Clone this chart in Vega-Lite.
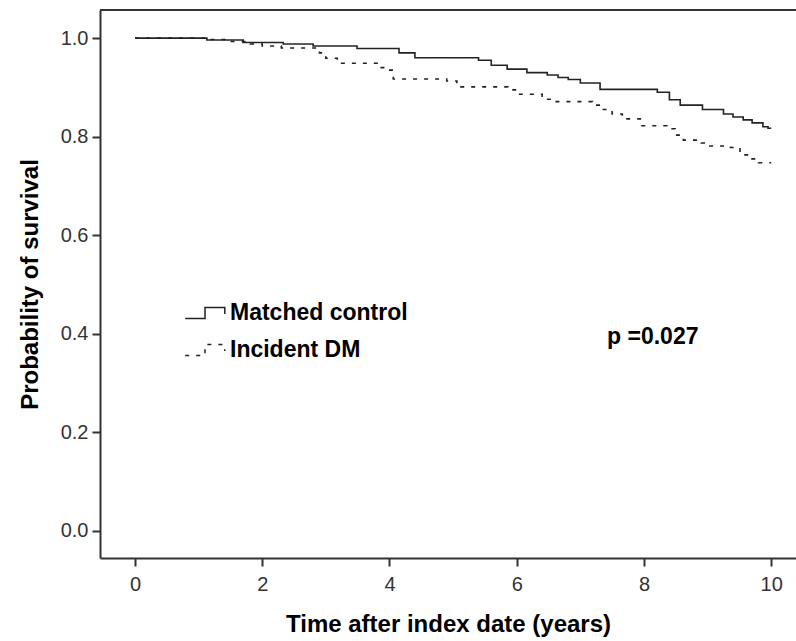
{
  "$schema": "https://vega.github.io/schema/vega-lite/v6.json",
  "width": 696,
  "height": 548,
  "autosize": {"type": "none"},
  "padding": {"left": 100, "top": 10, "right": 0, "bottom": 83},
  "background": "white",
  "config": {
    "view": {"stroke": null},
    "axis": {
      "domainColor": "#333",
      "domainWidth": 2,
      "tickColor": "#333",
      "tickWidth": 2,
      "tickSize": 8,
      "grid": false,
      "labelFont": "Liberation Sans, Arial, sans-serif",
      "labelFontSize": 20,
      "labelColor": "#333",
      "titleFont": "Liberation Sans, Arial, sans-serif",
      "titleFontSize": 24,
      "titleFontWeight": "bold",
      "titleColor": "#000"
    }
  },
  "datasets": {
    "curves": [
      {"group": "Matched control", "t": 0, "s": 1.0},
      {"group": "Matched control", "t": 1.13, "s": 0.996},
      {"group": "Matched control", "t": 1.7, "s": 0.991},
      {"group": "Matched control", "t": 2.33, "s": 0.988},
      {"group": "Matched control", "t": 2.8, "s": 0.984},
      {"group": "Matched control", "t": 3.49, "s": 0.979},
      {"group": "Matched control", "t": 4.15, "s": 0.97},
      {"group": "Matched control", "t": 4.4, "s": 0.96},
      {"group": "Matched control", "t": 5.4, "s": 0.955},
      {"group": "Matched control", "t": 5.6, "s": 0.945},
      {"group": "Matched control", "t": 5.85, "s": 0.937},
      {"group": "Matched control", "t": 6.16, "s": 0.93},
      {"group": "Matched control", "t": 6.48, "s": 0.925},
      {"group": "Matched control", "t": 6.65, "s": 0.92},
      {"group": "Matched control", "t": 6.81, "s": 0.916},
      {"group": "Matched control", "t": 7.0, "s": 0.909},
      {"group": "Matched control", "t": 7.31, "s": 0.896},
      {"group": "Matched control", "t": 8.21, "s": 0.89},
      {"group": "Matched control", "t": 8.4, "s": 0.875},
      {"group": "Matched control", "t": 8.57, "s": 0.864},
      {"group": "Matched control", "t": 8.92, "s": 0.855},
      {"group": "Matched control", "t": 9.25, "s": 0.846},
      {"group": "Matched control", "t": 9.4, "s": 0.84},
      {"group": "Matched control", "t": 9.56, "s": 0.834},
      {"group": "Matched control", "t": 9.7, "s": 0.828},
      {"group": "Matched control", "t": 9.87, "s": 0.82},
      {"group": "Matched control", "t": 9.95, "s": 0.817},
      {"group": "Matched control", "t": 10.0, "s": 0.817},
      {"group": "Incident DM", "t": 0, "s": 1.0},
      {"group": "Incident DM", "t": 1.15, "s": 0.997},
      {"group": "Incident DM", "t": 1.5, "s": 0.993},
      {"group": "Incident DM", "t": 1.81, "s": 0.988},
      {"group": "Incident DM", "t": 2.0, "s": 0.984},
      {"group": "Incident DM", "t": 2.3, "s": 0.98},
      {"group": "Incident DM", "t": 2.9, "s": 0.97},
      {"group": "Incident DM", "t": 3.0, "s": 0.959},
      {"group": "Incident DM", "t": 3.18, "s": 0.949},
      {"group": "Incident DM", "t": 3.85, "s": 0.94},
      {"group": "Incident DM", "t": 3.93, "s": 0.935},
      {"group": "Incident DM", "t": 4.06, "s": 0.917},
      {"group": "Incident DM", "t": 4.9, "s": 0.913},
      {"group": "Incident DM", "t": 5.06, "s": 0.901},
      {"group": "Incident DM", "t": 5.86, "s": 0.895},
      {"group": "Incident DM", "t": 6.0, "s": 0.886},
      {"group": "Incident DM", "t": 6.4, "s": 0.876},
      {"group": "Incident DM", "t": 6.57, "s": 0.871},
      {"group": "Incident DM", "t": 7.19, "s": 0.864},
      {"group": "Incident DM", "t": 7.34, "s": 0.855},
      {"group": "Incident DM", "t": 7.5, "s": 0.846},
      {"group": "Incident DM", "t": 7.66, "s": 0.836},
      {"group": "Incident DM", "t": 7.97, "s": 0.822},
      {"group": "Incident DM", "t": 8.36, "s": 0.816},
      {"group": "Incident DM", "t": 8.49, "s": 0.803},
      {"group": "Incident DM", "t": 8.62, "s": 0.793},
      {"group": "Incident DM", "t": 8.9, "s": 0.787},
      {"group": "Incident DM", "t": 9.0, "s": 0.781},
      {"group": "Incident DM", "t": 9.36, "s": 0.778},
      {"group": "Incident DM", "t": 9.51, "s": 0.763},
      {"group": "Incident DM", "t": 9.64, "s": 0.755},
      {"group": "Incident DM", "t": 9.8, "s": 0.747},
      {"group": "Incident DM", "t": 10.0, "s": 0.747}
    ],
    "annot": [{"t": 7.42, "s": 0.3935, "label": "p =0.027"}]
  },
  "layer": [
    {
      "data": {"name": "curves"},
      "mark": {"type": "line", "interpolate": "step-after", "color": "#222", "strokeWidth": 1.6},
      "encoding": {
        "x": {
          "field": "t", "type": "quantitative",
          "scale": {"domain": [-0.55, 10.39], "nice": false, "zero": false},
          "axis": {"title": "Time after index date (years)", "values": [0, 2, 4, 6, 8, 10], "format": "d", "labelPadding": 8, "titlePadding": 18}
        },
        "y": {
          "field": "s", "type": "quantitative",
          "scale": {"domain": [-0.055, 1.057], "nice": false, "zero": false},
          "axis": {"title": "Probability of survival", "values": [0, 0.2, 0.4, 0.6, 0.8, 1.0], "format": ".1f", "labelPadding": 4, "titlePadding": 18}
        },
        "strokeDash": {
          "field": "group", "type": "nominal",
          "scale": {"domain": ["Matched control", "Incident DM"], "range": [[1, 0], [4, 7]]},
          "legend": {
            "title": null,
            "orient": "none",
            "legendX": 86,
            "legendY": 284,
            "symbolType": "M-1.1,0.3H0V-0.3H1.1V0.05",
            "symbolSize": 1296,
            "symbolStrokeColor": "#222",
            "symbolStrokeWidth": 1.5,
            "symbolFillColor": "transparent",
            "labelFont": "Liberation Sans, Arial, sans-serif",
            "labelFontSize": 23,
            "labelFontWeight": "bold",
            "labelColor": "#000",
            "labelOffset": 6,
            "rowPadding": 6,
            "labelLimit": 400
          }
        }
      }
    },
    {
      "data": {"name": "annot"},
      "mark": {"type": "text", "align": "left", "baseline": "middle", "font": "Liberation Sans, Arial, sans-serif", "fontSize": 23, "fontWeight": "bold", "color": "#000"},
      "encoding": {
        "x": {"field": "t", "type": "quantitative"},
        "y": {"field": "s", "type": "quantitative"},
        "text": {"field": "label"}
      }
    },
    {
      "data": {"values": [{}]},
      "mark": {"type": "rule", "color": "#333", "strokeWidth": 2},
      "encoding": {"y": {"datum": 1.057}}
    }
  ]
}
